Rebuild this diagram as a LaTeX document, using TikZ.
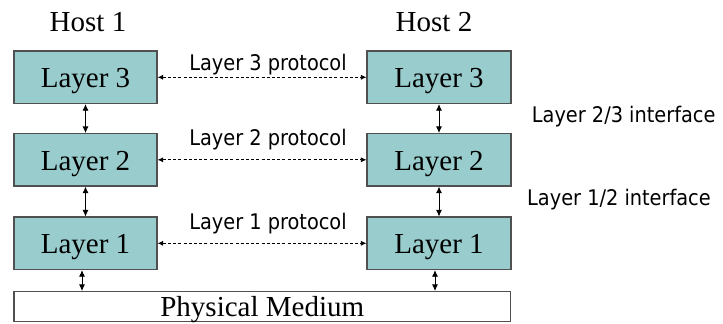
\documentclass[tikz,border=0pt]{standalone}
\usepackage{fontspec}
\setmainfont{Liberation Serif}
\newfontfamily\labelfont{DejaVu Sans Condensed}
\usepackage{xcolor}
\usepackage{tikz}
\usetikzlibrary{positioning,arrows.meta}

\definecolor{layerfill}{HTML}{99CCCC}
\definecolor{layerline}{HTML}{505050}

\begin{document}
\begin{tikzpicture}[
    x=1pt, y=-1pt,
    node distance=30pt,
    box/.style={draw=layerline, line width=1.2pt, fill=layerfill, minimum width=143pt, minimum height=52.5pt, inner sep=0pt, outer sep=0pt, text height=21pt, text depth=0pt, font=\fontsize{29}{32}\selectfont},
    medium/.style={draw=layerline, line width=1.2pt, fill=white, minimum width=496.5pt, minimum height=30pt, inner sep=0pt, outer sep=0pt, text height=20.6pt, text depth=0pt, font=\fontsize{29}{32}\selectfont},
    host/.style={inner sep=0pt, font=\fontsize{29}{32}\selectfont},
    note/.style={inner sep=0pt, font=\labelfont\fontsize{21.5}{24}\selectfont},
    updown/.style={{Latex[length=6.5pt,width=6pt]}-{Latex[length=6.5pt,width=6pt]}, line width=0.8pt, shorten <=0.6pt, shorten >=0.6pt},
    peer/.style={{Latex[length=5.5pt,width=5pt]}-{Latex[length=5.5pt,width=5pt]}, line width=0.7pt, dash pattern=on 3pt off 2.2pt, shorten <=0.6pt, shorten >=0.6pt},
  ]
    \useasboundingbox (0,0) rectangle (723,324);

    % host 1 stack
    \node[box] (l3a) at (85.5,77.3) {Layer 3};
    \node[box, below=of l3a] (l2a) {Layer 2};
    \node[box, below=31pt of l2a] (l1a) {Layer 1};

    % host 2 stack
    \node[box, right=210pt of l3a, minimum width=144pt] (l3b) {Layer 3};
    \node[box, below=of l3b, minimum width=144pt] (l2b) {Layer 2};
    \node[box, below=31pt of l2b, minimum width=144pt] (l1b) {Layer 1};

    \node[medium, below=22pt of l1a.south west, anchor=north west] (phys) {Physical Medium};

    \node[host, above=19pt of l3a, xshift=2.5pt] (h1) {Host 1};
    \node[host, above=19pt of l3b, xshift=-5pt] (h2) {Host 2};

    % peer protocols
    \draw[peer] (l3a) -- node[note, anchor=base, yshift=7pt, xshift=6pt] {Layer 3 protocol} (l3b);
    \draw[peer] (l2a) -- node[note, anchor=base, yshift=14pt, xshift=6pt] {Layer 2 protocol} (l2b);
    \draw[peer] (l1a) -- node[note, anchor=base, yshift=14pt, xshift=6pt] {Layer 1 protocol} (l1b);

    % interfaces between layers
    \draw[updown] (l3a) -- (l2a);
    \draw[updown] (l2a) -- (l1a);
    \draw[updown] (l3b) -- (l2b);
    \draw[updown] (l2b) -- (l1b);
    \draw[updown] ([xshift=-3.5pt]l1a.south) -- ([xshift=-3.5pt]l1a.south |- phys.north);
    \draw[updown] ([xshift=-4pt]l1b.south) -- ([xshift=-4pt]l1b.south |- phys.north);

    \node[note, anchor=base west] (if23) at (531.7,122.7) {Layer 2/3 interface};
    \node[note, anchor=base west] (if12) at (527,205.7) {Layer 1/2 interface};
  \end{tikzpicture}
\end{document}
